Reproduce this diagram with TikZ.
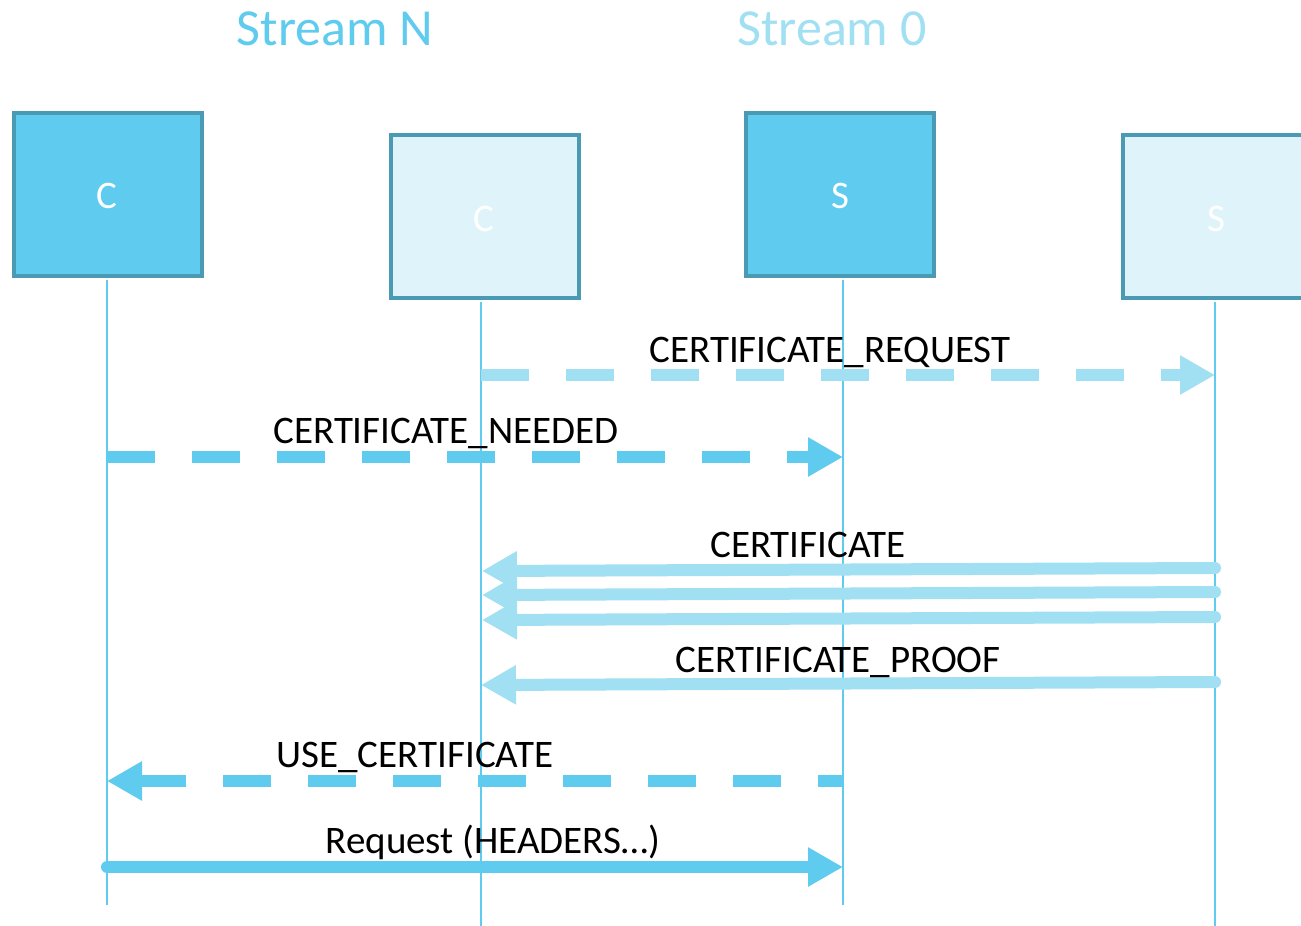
\documentclass[tikz,border=0pt]{standalone}
\usepackage{fontspec}
\setmainfont{Carlito}
\usetikzlibrary{arrows.meta}
\definecolor{msgdark}{HTML}{5ECBEF}
\definecolor{msglight}{HTML}{A0E0F2}
\definecolor{boxedge}{HTML}{4A9AB3}
\definecolor{boxpale}{HTML}{DFF4FA}

\begin{document}
\begin{tikzpicture}[x=1pt,y=-1pt,
  actor/.style={draw=boxedge, line width=4pt, minimum width=188pt, minimum height=163pt,
                inner sep=0pt, text=white, font=\fontsize{40}{48}\selectfont},
  active/.style={actor, fill=msgdark},
  idle/.style={actor, fill=boxpale},
  lifeline/.style={draw=msgdark, line width=2.8pt},
  msg/.style={line width=12pt, -{Triangle[length=35pt,width=37pt]}},
  solidmsg/.style={msg, line cap=round},
  dashmsg/.style={msg, dash pattern=on 48pt off 37pt},
  lbl/.style={anchor=base, font=\fontsize{39}{47}\selectfont, inner sep=0pt},
  streamtitle/.style={anchor=base, font=\fontsize{52}{62}\selectfont, inner sep=0pt}
]
\fill[white] (0,0) rectangle (1301,926);
\useasboundingbox (0,0) rectangle (1301,926);

% stream headings
\node[streamtitle, text=msgdark]  (titleN) at (335,45) {Stream N};
\node[streamtitle, text=msglight] (title0) at (832,45) {Stream 0};

% participants
\node[active] (c1) at (108,194.5) {};
\node[idle]   (c2) at (485,216.5) {};
\node[active] (s1) at (840,194.5) {};
\node[idle]   (s2) at (1217,216.5) {};
\node[lbl, text=white] (c1t) at (107,208) {C};
\node[lbl, text=white] (c2t) at (484,231) {C};
\node[lbl, text=white] (s1t) at (840,208) {S};
\node[lbl, text=white] (s2t) at (1216,231) {S};

% lifelines
\coordinate (c1top) at (107,280);  \coordinate (c1end) at (107,905);
\coordinate (c2top) at (481,302);  \coordinate (c2end) at (481,926);
\coordinate (s1top) at (843,280);  \coordinate (s1end) at (843,905);
\coordinate (s2top) at (1215,302); \coordinate (s2end) at (1215,926);
\draw[lifeline] (c1top) -- (c1end);
\draw[lifeline] (c2top) -- (c2end);
\draw[lifeline] (s1top) -- (s1end);
\draw[lifeline] (s2top) -- (s2end);

% message end points
\coordinate (reqA) at (481,375);  \coordinate (reqB) at (1215,375);
\coordinate (needA) at (107,457); \coordinate (needB) at (843,457);
\coordinate (certA1) at (1215,568); \coordinate (certB1) at (482,571);
\coordinate (certA2) at (1215,592); \coordinate (certB2) at (482,595);
\coordinate (certA3) at (1215,617); \coordinate (certB3) at (482,620);
\coordinate (proofA) at (1215,682); \coordinate (proofB) at (481,685);
\coordinate (useA) at (843,781);  \coordinate (useB) at (107,781);
\coordinate (hdrA) at (107,867);  \coordinate (hdrB) at (843,867);

% messages
\draw[dashmsg, msglight] (reqA) -- (reqB);
\draw[dashmsg, msgdark] (needA) -- (needB);
\draw[solidmsg, msglight] (certA1) -- (certB1);
\draw[solidmsg, msglight] (certA2) -- (certB2);
\draw[solidmsg, msglight] (certA3) -- (certB3);
\draw[solidmsg, msglight] (proofA) -- (proofB);
\draw[dashmsg, msgdark, dash phase=23pt] (useA) -- (useB);
\draw[solidmsg, msgdark] (hdrA) -- (hdrB);

% message labels
\node[lbl] (reqL)   at (830,362) {CERTIFICATE\_REQUEST};
\node[lbl] (needL)  at (446,443) {CERTIFICATE\_NEEDED};
\node[lbl] (certL)  at (808,557) {CERTIFICATE};
\node[lbl] (proofL) at (838,672) {CERTIFICATE\_PROOF};
\node[lbl] (useL)   at (415,767) {USE\_CERTIFICATE};
\node[lbl] (hdrL)   at (493,853) {Request (HEADERS…)};
\end{tikzpicture}
\end{document}
